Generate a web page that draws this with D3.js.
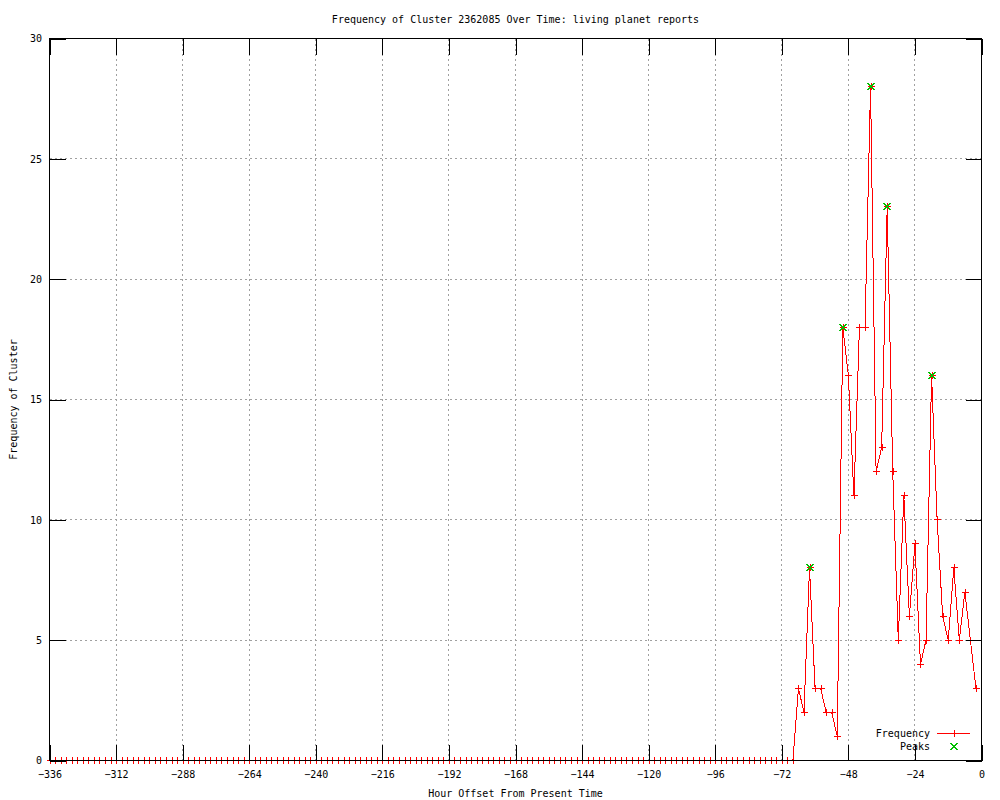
<!DOCTYPE html>
<html>
<head>
<meta charset="utf-8">
<script src="https://cdn.jsdelivr.net/npm/d3@7"></script>
<style>
  body { margin: 0; background: #fff; }
  text { font-family: "DejaVu Sans Mono", monospace; font-size: 10px; fill: #000; }
</style>
</head>
<body>
<div id="views"></div>
<script>
var chartTitle = "Frequency of Cluster 2362085 Over Time: living planet reports";
var xLabel = "Hour Offset From Present Time";
var yLabel = "Frequency of Cluster";

// one value every 2 hours, from -336 up to -2
var startHour = -336;
var stepHour = 2;
var frequency = [
    0, 0, 0, 0, 0, 0, 0, 0, 0, 0, 0, 0, 0, 0, 0,
    0, 0, 0, 0, 0, 0, 0, 0, 0, 0, 0, 0, 0, 0, 0,
    0, 0, 0, 0, 0, 0, 0, 0, 0, 0, 0, 0, 0, 0, 0,
    0, 0, 0, 0, 0, 0, 0, 0, 0, 0, 0, 0, 0, 0, 0,
    0, 0, 0, 0, 0, 0, 0, 0, 0, 0, 0, 0, 0, 0, 0,
    0, 0, 0, 0, 0, 0, 0, 0, 0, 0, 0, 0, 0, 0, 0,
    0, 0, 0, 0, 0, 0, 0, 0, 0, 0, 0, 0, 0, 0, 0,
    0, 0, 0, 0, 0, 0, 0, 0, 0, 0, 0, 0, 0, 0, 0,
    0, 0, 0, 0, 0, 0, 0, 0, 0, 0, 0, 0, 0, 0, 0,
    3, 2, 8, 3, 3, 2, 2, 1, 18, 16, 11, 18, 18, 28, 12, 13,
    23, 12, 5, 11, 6, 9, 4, 5, 16, 10, 6, 5, 8, 5, 7, 5, 3
];
var peakHours = [-62, -50, -40, -34, -18];
var peakValues = [8, 18, 28, 23, 16];

var xTicks = [-336, -312, -288, -264, -240, -216, -192, -168, -144, -120, -96, -72, -48, -24, 0];
var yTicks = [0, 5, 10, 15, 20, 25, 30];
var legendNames = ["Frequency", "Peaks"];

var lineColor = "#ff0000";
var peakColor = "#00c000";

var w = 1000, h = 800;
var plot = { left: 49.5, right: 981.5, top: 38.5, bottom: 760.5 };
var tickLen = 16;

var points = frequency.map(function(v, i) { return { hour: startHour + i * stepHour, value: v }; });
var peaks = peakHours.map(function(hr, i) { return { hour: hr, value: peakValues[i] }; });

var xScale = d3.scaleLinear().domain([-336, 0]).range([plot.left, plot.right]);
var yScale = d3.scaleLinear().domain([0, 30]).range([plot.bottom, plot.top]);

var svg = d3.select("#views").append("svg")
    .attr("width", w)
    .attr("height", h);

svg.append("rect").attr("width", w).attr("height", h).attr("fill", "#fff");

// grid
var grid = svg.append("g").attr("stroke", "#a0a0a0").attr("stroke-dasharray", "2,3")
    .attr("shape-rendering", "crispEdges");
grid.selectAll(".gx").data(xTicks.slice(1, -1)).enter().append("line")
    .attr("x1", d => xScale(d)).attr("x2", d => xScale(d))
    .attr("y1", plot.top).attr("y2", plot.bottom);
grid.selectAll(".gy").data(yTicks.slice(1, -1)).enter().append("line")
    .attr("y1", d => yScale(d)).attr("y2", d => yScale(d))
    .attr("x1", plot.left).attr("x2", plot.right);

// axes: d3 axes with inner ticks on all four sides
var xAxisBottom = d3.axisBottom(xScale).tickValues(xTicks).tickSize(-tickLen).tickPadding(10)
    .tickFormat(d3.format("d"));
var xAxisTop = d3.axisTop(xScale).tickValues(xTicks).tickSize(-tickLen).tickFormat("");
var yAxisLeft = d3.axisLeft(yScale).tickValues(yTicks).tickSize(-tickLen).tickPadding(7.5)
    .tickFormat(d3.format("d"));
var yAxisRight = d3.axisRight(yScale).tickValues(yTicks).tickSize(-tickLen).tickFormat("");

function styleAxis(g) {
    g.select(".domain").remove();
    g.selectAll(".tick line").attr("stroke", "#000").attr("shape-rendering", "crispEdges");
    g.selectAll("text").attr("font-family", null).attr("font-size", null).attr("fill", "#000");
}

// data line and markers
svg.append("path")
    .datum(points)
    .attr("fill", "none")
    .attr("stroke", lineColor)
    .attr("stroke-width", 1)
    .attr("shape-rendering", "crispEdges")
    .attr("d", d3.line().x(d => xScale(d.hour)).y(d => yScale(d.value)));

var plusPath = "M-3.5,0H3.5M0,-3.5V3.5";
var crossPath = "M-3.5,-3.5L3.5,3.5M-3.5,3.5L3.5,-3.5";

svg.append("g").selectAll("path").data(points).enter().append("path")
    .attr("transform", d => "translate(" + Math.round(xScale(d.hour)) + "," + (Math.round(yScale(d.value) - 0.5) + 0.5) + ")")
    .attr("d", plusPath)
    .attr("stroke", lineColor)
    .attr("fill", "none")
    .attr("shape-rendering", "crispEdges");

svg.append("g").selectAll("path").data(peaks).enter().append("path")
    .attr("transform", d => "translate(" + Math.round(xScale(d.hour)) + "," + (Math.round(yScale(d.value) - 0.5) + 0.5) + ")")
    .attr("d", crossPath)
    .attr("stroke", peakColor)
    .attr("fill", "none")
    .attr("shape-rendering", "crispEdges");

svg.append("g").attr("transform", "translate(0," + plot.bottom + ")").call(xAxisBottom).call(styleAxis);
svg.append("g").attr("transform", "translate(0," + plot.top + ")").call(xAxisTop).call(styleAxis);
svg.append("g").attr("transform", "translate(" + plot.left + ",0)").call(yAxisLeft).call(styleAxis);
svg.append("g").attr("transform", "translate(" + plot.right + ",0)").call(yAxisRight).call(styleAxis);

// border
svg.append("rect")
    .attr("x", plot.left).attr("y", plot.top)
    .attr("width", plot.right - plot.left).attr("height", plot.bottom - plot.top)
    .attr("fill", "none").attr("stroke", "#000").attr("shape-rendering", "crispEdges");

// titles
svg.append("text").attr("x", (plot.left + plot.right) / 2).attr("y", 23)
    .attr("text-anchor", "middle").text(chartTitle);
svg.append("text").attr("x", (plot.left + plot.right) / 2).attr("y", 797)
    .attr("text-anchor", "middle").text(xLabel);
svg.append("text").attr("transform", "translate(17," + ((plot.top + plot.bottom) / 2) + ") rotate(-90)")
    .attr("text-anchor", "middle").text(yLabel);

// legend
var legend = svg.append("g").attr("transform", "translate(930,733.5)");
legend.selectAll("text").data(legendNames).enter().append("text")
    .attr("x", 0).attr("y", (d, i) => i * 13 + 3.5)
    .attr("text-anchor", "end").text(d => d);
legend.append("line").attr("x1", 7).attr("x2", 40).attr("y1", 0).attr("y2", 0)
    .attr("stroke", lineColor).attr("shape-rendering", "crispEdges");
legend.append("path").attr("transform", "translate(24,0)").attr("d", plusPath)
    .attr("stroke", lineColor).attr("shape-rendering", "crispEdges");
legend.append("path").attr("transform", "translate(24,13)").attr("d", crossPath)
    .attr("stroke", peakColor).attr("fill", "none").attr("shape-rendering", "crispEdges");
</script>
</body>
</html>
